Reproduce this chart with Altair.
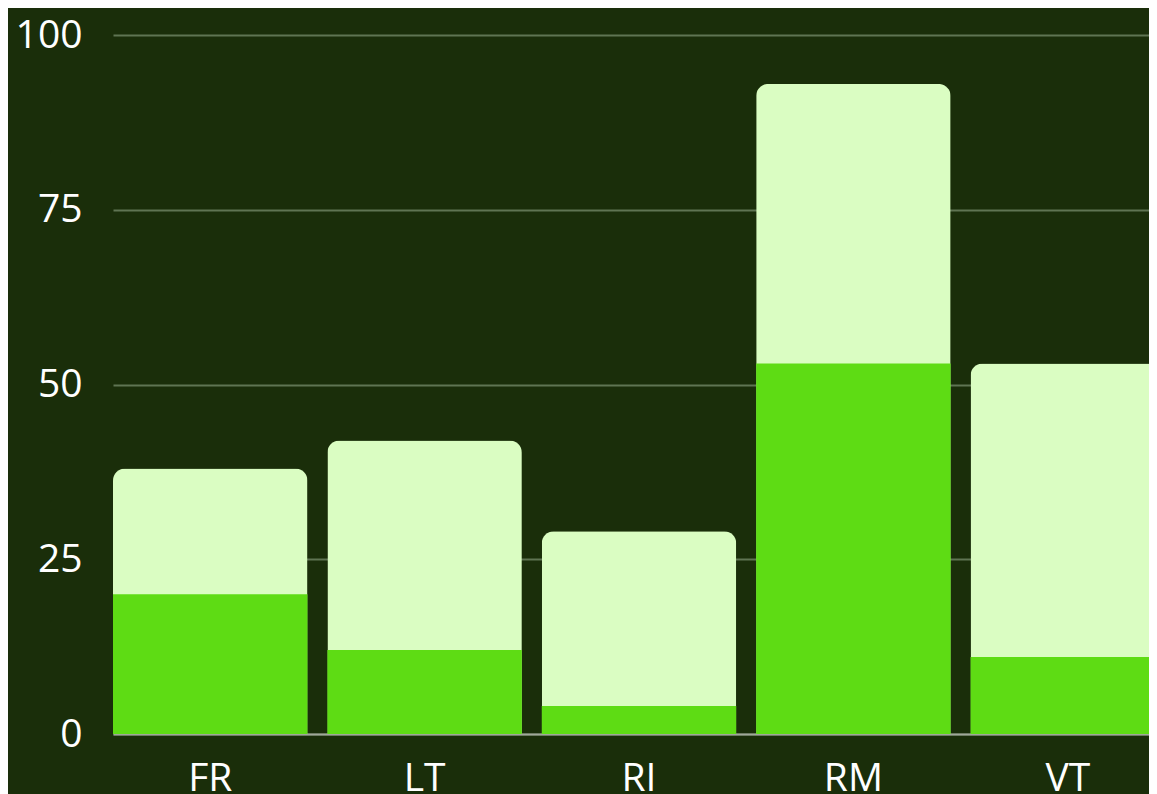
import altair as alt
import pandas as pd

categories = ["FR", "LT", "RI", "RM", "VT"]
bottom_values = [20, 12, 4, 53, 11]
top_values = [18, 30, 25, 40, 42]

df = pd.DataFrame({
    "cat": categories,
    "bottom": bottom_values,
    "top": top_values,
})
df["total"] = df["bottom"] + df["top"]

BG = "#1a2e0a"
LIGHT = "#dafdc2"
BRIGHT = "#5edc14"

x = alt.X("cat:N", title=None, sort=categories,
          scale=alt.Scale(paddingInner=0.093, paddingOuter=0, range=[0, 1052]),
          axis=alt.Axis(labelAngle=0, labelFontSize=39, labelColor="#ffffff",
                        labelFont="Open Sans", labelPadding=25, ticks=False,
                        domain=True, domainColor="#a0a89a", domainWidth=2, grid=False))

y_axis = alt.Axis(values=[0, 25, 50, 75, 100], labelFontSize=39, labelColor="#ffffff",
                  labelFont="Open Sans", labelPadding=31, ticks=False, domain=False,
                  grid=True, gridColor="#5f7453", gridWidth=2)

base = alt.Chart(df)

total_bar = base.mark_bar(color=LIGHT, cornerRadiusTopLeft=12, cornerRadiusTopRight=12).encode(
    x=x,
    y=alt.Y("total:Q", title=None, scale=alt.Scale(domain=[0, 100], nice=False), axis=y_axis),
)

bottom_bar = base.mark_bar(color=BRIGHT).encode(
    x=x,
    y=alt.Y("bottom:Q"),
)

chart = alt.layer(total_bar, bottom_bar).properties(
    width=1036, height=699, background=BG,
    autosize=alt.AutoSizeParams(type="none"),
    padding={"left": 105, "top": 27, "right": 0, "bottom": 60},
).configure_view(stroke=None)

chart.save("out.html", embed_options={"renderer": "svg", "actions": False})
